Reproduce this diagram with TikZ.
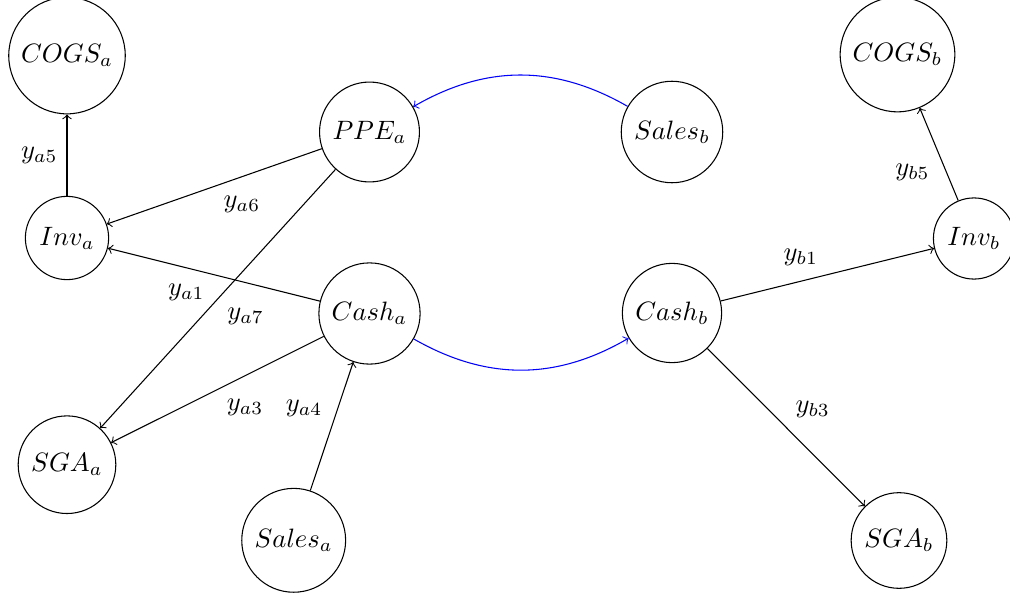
\documentclass[tikz,border=0pt]{standalone}
\usetikzlibrary{positioning}
\begin{document}
\begin{tikzpicture}[x=0.3762pt,y=-0.3762pt,
  acct/.style={circle,draw,thin},
  flow/.style={->,thin},
  link/.style={->,thin,blue}]
\useasboundingbox (0,0) rectangle (1010,598);

% accounts of firm a
\node[acct] (COGSa)  at (67,55.6)    {$COGS_a$};
\node[acct] (PPEa)   at (369.5,132)  {$PPE_a$};
\node[acct] (Inva)   at (67,238)     {$Inv_a$};
\node[acct] (Casha)  at (369.5,313.5){$Cash_a$};
\node[acct] (SGAa)   at (67,464.7)   {$SGA_a$};
\node[acct] (Salesa) at (293.7,540.3){$Sales_a$};

% accounts of firm b
\node[acct] (Salesb) at (672,132)    {$Sales_b$};
\node[acct] (COGSb)  at (897.5,54.5) {$COGS_b$};
\node[acct] (Invb)   at (974,238.5)  {$Inv_b$};
\node[acct] (Cashb)  at (672,313)    {$Cash_b$};
\node[acct] (SGAb)   at (899,540.5)  {$SGA_b$};

% flows within firm a
\draw[flow] (Inva)   -- node[left]        {$y_{a5}$} (COGSa);
\draw[flow] (PPEa)   -- node[below right] {$y_{a6}$} (Inva);
\draw[flow] (Casha)  -- node[below left]  {$y_{a1}$} (Inva);
\draw[flow] (PPEa)   -- node[below right] {$y_{a7}$} (SGAa);
\draw[flow] (Casha)  -- node[below right] {$y_{a3}$} (SGAa);
\draw[flow] (Salesa) -- node[above left]  {$y_{a4}$} (Casha);

% flows within firm b
\draw[flow] (Cashb)  -- node[above left]  {$y_{b1}$} (Invb);
\draw[flow] (Cashb)  -- node[above right] {$y_{b3}$} (SGAb);
\draw[flow] (Invb)   -- node[below left]  {$y_{b5}$} (COGSb);

% links between the firms
\draw[link] (Salesb) to[bend right=30] (PPEa);
\draw[link] (Casha)  to[bend right=30] (Cashb);
\end{tikzpicture}
\end{document}
